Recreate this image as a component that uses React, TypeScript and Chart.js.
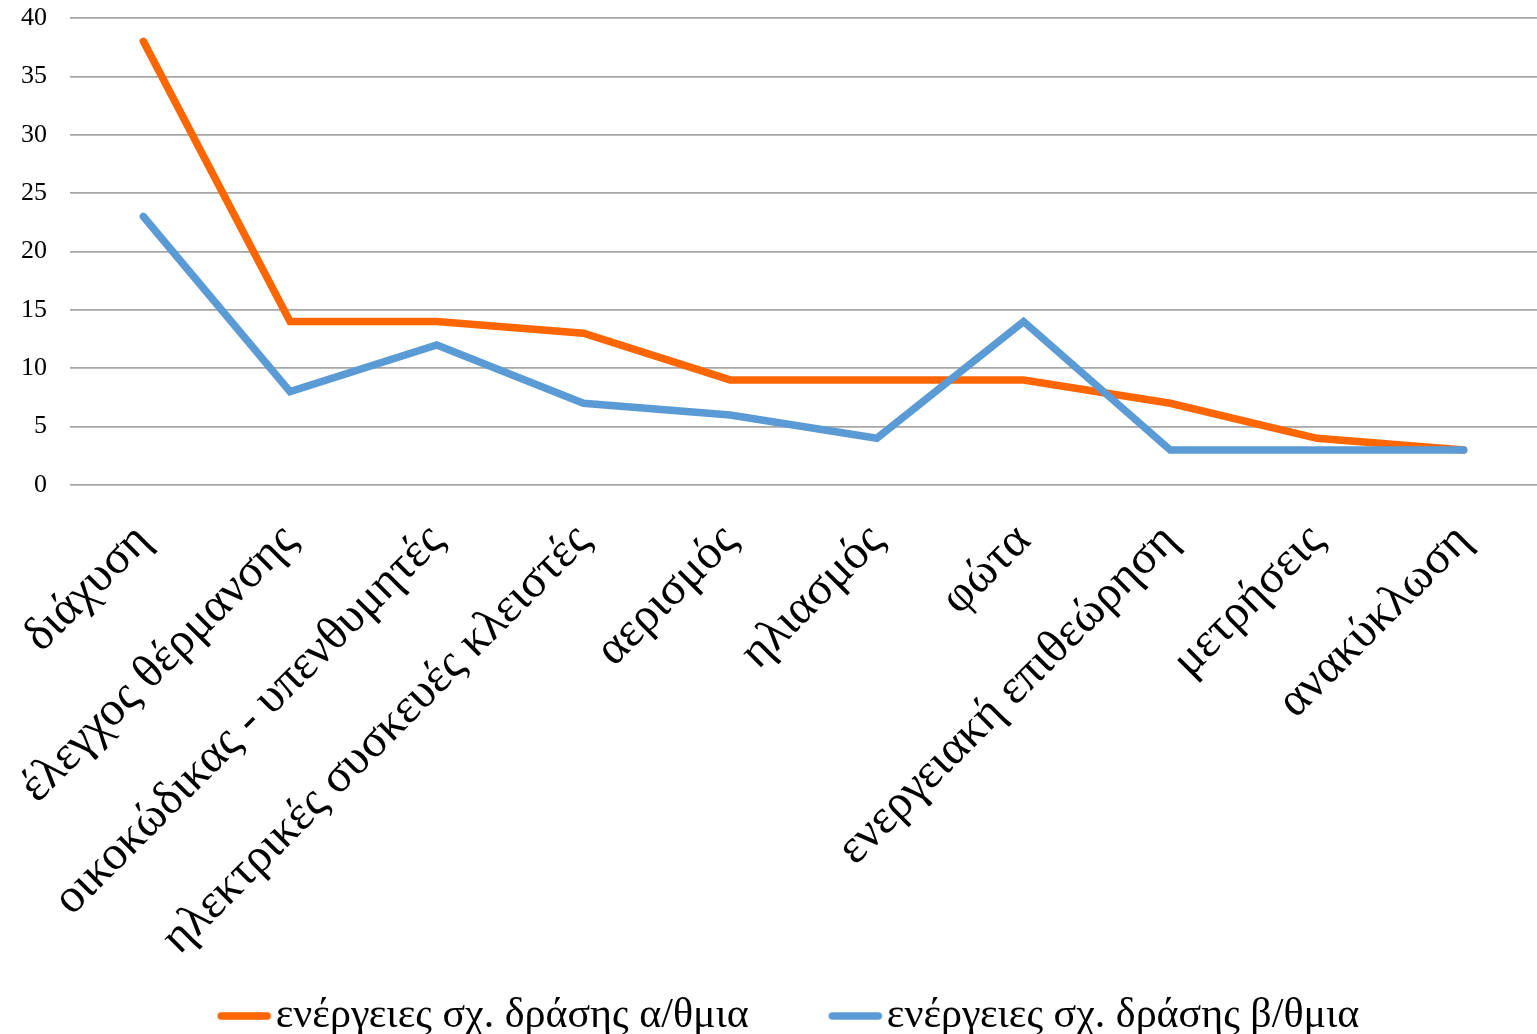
import React, { useEffect, useRef } from "react";
import { Chart, registerables } from "chart.js";

Chart.register(...registerables);

const categories = [
  "διάχυση",
  "έλεγχος θέρμανσης",
  "οικοκώδικας - υπενθυμητές",
  "ηλεκτρικές συσκευές κλειστές",
  "αερισμός",
  "ηλιασμός",
  "φώτα",
  "ενεργειακή επιθεώρηση",
  "μετρήσεις",
  "ανακύκλωση",
];
const seriesA = [38, 14, 14, 13, 9, 9, 9, 7, 4, 3];
const seriesB = [23, 8, 12, 7, 6, 4, 14, 3, 3, 3];
const seriesNames = ["ενέργειες σχ. δράσης α/θμια", "ενέργειες σχ. δράσης β/θμια"];
const seriesColors = ["#FF6600", "#5B9BD5"];
const yTicks = [0, 5, 10, 15, 20, 25, 30, 35, 40];

const FONT = "'Liberation Serif', 'Times New Roman', 'DejaVu Serif', serif";

function legendMark(color: string) {
  const c = document.createElement("canvas");
  c.width = 118;
  c.height = 10;
  const g = c.getContext("2d")!;
  g.strokeStyle = color;
  g.lineWidth = 7.5;
  g.lineCap = "round";
  g.beginPath();
  g.moveTo(64, 5);
  g.lineTo(110, 5);
  g.stroke();
  return c;
}

export default function App() {
  const ref = useRef<HTMLCanvasElement | null>(null);
  useEffect(() => {
    document.body.style.margin = "0";
    const ctx = ref.current!;
    const chart = new Chart(ctx, {
      type: "line",
      data: {
        labels: categories,
        datasets: [seriesA, seriesB].map((d, i) => ({
          label: seriesNames[i],
          data: d,
          order: 1 - i,
          borderColor: seriesColors[i],
          backgroundColor: seriesColors[i],
          borderWidth: 7.5,
          pointRadius: 0,
          pointHoverRadius: 0,
          pointStyle: legendMark(seriesColors[i]) as any,
          tension: 0,
          borderCapStyle: "round" as const,
          borderJoinStyle: "miter" as const,
        })),
      },
      options: {
        animation: false,
        responsive: false,
        maintainAspectRatio: false,
        layout: { padding: { top: 18, right: 0, left: 0, bottom: -13 } },
        plugins: {
          tooltip: { enabled: false },
          legend: {
            position: "bottom",
            labels: {
              usePointStyle: true,
              pointStyleWidth: 77,
              boxHeight: 10,
              padding: 40,
              color: "#000",
              font: { family: FONT, size: 42 },
              sort: (a: any, b: any) => a.datasetIndex - b.datasetIndex,
            },
          },
        },
        scales: {
          x: {
            offset: true,
            grid: { display: false },
            border: { display: false },
            afterFit: (s: any) => {
              s.height = 470;
              s.paddingLeft = 0;
              s.paddingRight = 0;
            },
            ticks: {
              maxRotation: 45,
              minRotation: 45,
              autoSkip: false,
              padding: 20,
              color: "#000",
              font: { family: FONT, size: 48 },
            },
          },
          y: {
            min: 0,
            max: 40,
            afterBuildTicks: (s: any) => {
              s.ticks = yTicks.map((v) => ({ value: v }));
            },
            afterFit: (s: any) => {
              s.width = 70;
              s.paddingTop = 0;
              s.paddingBottom = 0;
            },
            grid: { color: "#A6A6A6", lineWidth: 1.75, drawTicks: false },
            border: { display: false },
            ticks: {
              padding: 23,
              color: "#000",
              font: { family: FONT, size: 26 },
            },
          },
        },
      },
    });
    return () => chart.destroy();
  }, []);
  return (
    <div style={{ position: "absolute", left: 0, top: 0, width: 1537, height: 1034 }}>
      <canvas ref={ref} width={1537} height={1034} style={{ width: 1537, height: 1034 }} />
    </div>
  );
}
